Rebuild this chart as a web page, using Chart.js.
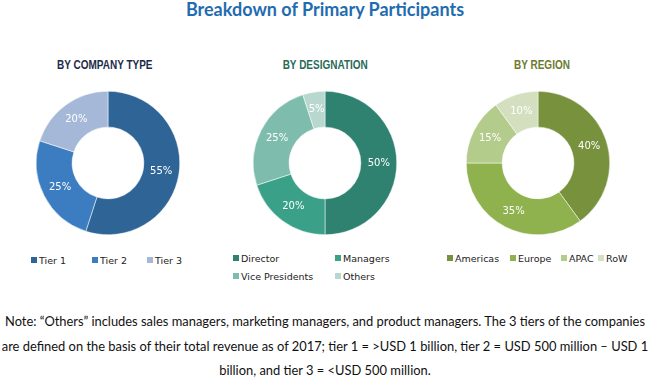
<!DOCTYPE html>
<html>
<head>
<meta charset="utf-8">
<script src="https://cdn.jsdelivr.net/npm/chart.js@4.4.1/dist/chart.umd.min.js"></script>
<style>
  body { margin: 0; width: 650px; height: 385px; background: #fff; position: relative; overflow: hidden; }
  .title { position: absolute; left: 0; width: 650px; top: -2px; text-align: center; font: bold 18px Lato, "Liberation Sans", sans-serif; color: #1f6cb0; }
  .sub { position: absolute; top: 55px; width: 200px; text-align: center; }
  .sub span { display: inline-block; font: bold 12.5px "Liberation Sans", sans-serif; transform: scaleX(0.8); transform-origin: center; }
  .wrap { position: absolute; width: 144px; height: 144px; }
  .legend { position: absolute; display: grid; font: 9.5px "DejaVu Sans", sans-serif; color: #222; row-gap: 6px; }
  .legend span.item { display: flex; align-items: center; white-space: nowrap; height: 12px; }
  .legend i { display: inline-block; width: 6px; height: 6px; margin-right: 2px; }
  .note { position: absolute; left: 0; width: 650px; top: 309px; text-align: center; font: 12.9px Lato, "Liberation Sans", sans-serif; color: #111; line-height: 24.5px; }
</style>
</head>
<body>
<div class="title">Breakdown of Primary Participants</div>

<div class="sub" style="left:5px;color:#1e2b48"><span>BY COMPANY TYPE</span></div>
<div class="sub" style="left:225px;color:#2b6a58"><span>BY DESIGNATION</span></div>
<div class="sub" style="left:442px;color:#6b7b2e"><span>BY REGION</span></div>

<div class="wrap" style="left:36px;top:91px"><canvas id="companyChart" width="144" height="144"></canvas></div>
<div class="wrap" style="left:253px;top:91px"><canvas id="designationChart" width="144" height="144"></canvas></div>
<div class="wrap" style="left:466px;top:91px"><canvas id="regionChart" width="144" height="144"></canvas></div>

<div class="legend" id="companyLegend" style="left:31px;top:254px;grid-template-columns:61px 55px auto"></div>
<div class="legend" id="designationLegend" style="left:233px;top:252px;grid-template-columns:102px auto"></div>
<div class="legend" id="regionLegend" style="left:447px;top:252px;grid-template-columns:63px 51px 37px auto"></div>

<div class="note">Note: “Others” includes sales managers, marketing managers, and product managers. The 3 tiers of the companies<br>are defined on the basis of their total revenue as of 2017; tier 1 = &gt;USD 1 billion, tier 2 = USD 500 million – USD 1<br>billion, and tier 3 = &lt;USD 500 million.</div>

<script>
// Company type
const companyLabels = ["Tier 1", "Tier 2", "Tier 3"];
const companyValues = [55, 25, 20];
const companyColors = ["#2f6497", "#3b7dc0", "#a6b8d7"];

// Designation
const designationLabels = ["Director", "Managers", "Vice Presidents", "Others"];
const designationValues = [50, 20, 25, 5];
const designationColors = ["#2f8270", "#3aa188", "#7ebdad", "#b8d8cf"];

// Region
const regionLabels = ["Americas", "Europe", "APAC", "RoW"];
const regionValues = [40, 35, 15, 10];
const regionColors = ["#77913d", "#8fb24e", "#b3cb8b", "#d3dfbf"];

// draws "xx%" in the middle of each slice
const sliceLabels = {
  id: "sliceLabels",
  afterDatasetsDraw(chart) {
    const ctx = chart.ctx;
    const meta = chart.getDatasetMeta(0);
    ctx.save();
    ctx.font = "10px 'DejaVu Sans', sans-serif";
    ctx.fillStyle = "#ffffff";
    ctx.textAlign = "center";
    ctx.textBaseline = "middle";
    meta.data.forEach((arc, i) => {
      const p = arc.tooltipPosition();
      ctx.fillText(chart.data.datasets[0].data[i] + "%", p.x, p.y);
    });
    ctx.restore();
  }
};

function makeDonut(id, labels, values, colors) {
  return new Chart(document.getElementById(id), {
    type: "doughnut",
    data: {
      labels: labels,
      datasets: [{ data: values, backgroundColor: colors, borderWidth: 0.5, borderColor: "#ffffff" }]
    },
    options: {
      responsive: false,
      animation: false,
      cutout: "50%",
      layout: { padding: 0 },
      plugins: { legend: { display: false }, tooltip: { enabled: false } }
    },
    plugins: [sliceLabels]
  });
}

function makeLegend(id, labels, colors) {
  document.getElementById(id).innerHTML = labels
    .map((l, i) => `<span class="item"><i style="background:${colors[i]}"></i>${l}</span>`)
    .join("");
}

makeDonut("companyChart", companyLabels, companyValues, companyColors);
makeDonut("designationChart", designationLabels, designationValues, designationColors);
makeDonut("regionChart", regionLabels, regionValues, regionColors);

makeLegend("companyLegend", companyLabels, companyColors);
makeLegend("designationLegend", designationLabels, designationColors);
makeLegend("regionLegend", regionLabels, regionColors);
</script>
</body>
</html>
